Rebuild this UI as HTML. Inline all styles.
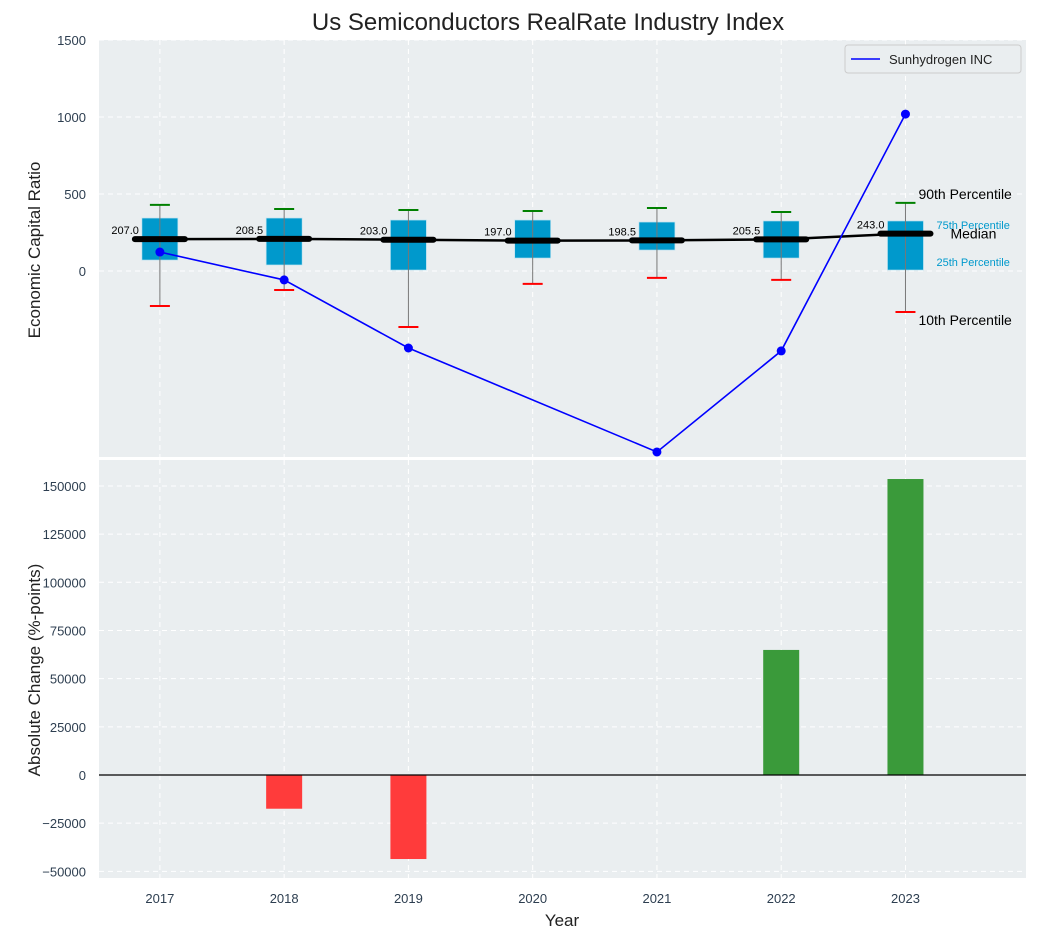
<!DOCTYPE html>
<html><head><meta charset="utf-8"><style>
body{margin:0;background:#fff;font-family:"Liberation Sans",sans-serif}
svg text{font-family:"Liberation Sans",sans-serif}
</style></head><body>
<svg id="c" width="1038" height="940" xmlns="http://www.w3.org/2000/svg"></svg>
<script>
const years=[2017,2018,2019,2020,2021,2022,2023];
const p90=[429,403,396,390,409,383,442];
const p75=[344,344,331,331,318,325,325];
const p25=[71,39,6,84,136,84,6];
const p10=[-227,-123,-364,-84,-45,-58,-266];
const medians=[207.0,208.5,203.0,197.0,198.5,205.5,243.0];
const sunYears=[2017,2018,2019,2021,2022,2023];
const sunVals=[123,-58,-500,-1175,-519,1019];
const changeYears=[2018,2019,2022,2023];
const changeVals=[-17500,-43600,64900,153600];
const topTicks=[0,500,1000,1500];
const botTicks=[-50000,-25000,0,25000,50000,75000,100000,125000,150000];

const NS="http://www.w3.org/2000/svg",svg=document.getElementById('c');
function el(t,a,txt){const e=document.createElementNS(NS,t);for(const k in a)e.setAttribute(k,a[k]);if(txt!==undefined)e.textContent=txt;svg.appendChild(e);return e;}
const L=99,R=1026,T1=40,B1=457,T2=460,B2=878;
const x=v=>L+(v-2016.51)/(2023.97-2016.51)*(R-L);
const y1=v=>271-v*0.154;
const y2=v=>775-v*0.001927;
let e;
e=el('rect',{x:L,y:T1,width:R-L,height:B1-T1,fill:'#eaeef0'});

e=el('rect',{x:L,y:T2,width:R-L,height:B2-T2,fill:'#eaeef0'});

// grids
years.forEach(yr=>{[[T1,B1],[T2,B2]].forEach(p=>{el('line',{x1:x(yr),x2:x(yr),y1:p[0],y2:p[1],stroke:'#fff','stroke-dasharray':'5,4','stroke-width':1});});
 e=el('text',{x:x(yr),y:903,'text-anchor':'middle','font-size':13,fill:'#2d3e50'},yr);
 });
topTicks.forEach(t=>{el('line',{x1:L,x2:R,y1:y1(t),y2:y1(t),stroke:'#fff','stroke-dasharray':'5,4'});
 e=el('text',{x:86,y:y1(t)+5,'text-anchor':'end','font-size':13,fill:'#2d3e50'},t);
 });
botTicks.forEach(t=>{el('line',{x1:L,x2:R,y1:y2(t),y2:y2(t),stroke:'#fff','stroke-dasharray':'5,4'});
 e=el('text',{x:86,y:y2(t)+5,'text-anchor':'end','font-size':13,fill:'#2d3e50'},t<0?'\u2212'+(-t):t);
 });
// boxes
years.forEach((yr,i)=>{const cx=x(yr);
 e=el('rect',{x:cx-18,y:y1(p75[i]),width:36,height:y1(p25[i])-y1(p75[i]),fill:'#0099cc',stroke:'#bfe3f0','stroke-width':0.7});
 
 el('line',{x1:cx,x2:cx,y1:y1(p90[i]),y2:y1(p10[i]),stroke:'#777','stroke-width':1});
 e=el('line',{x1:cx-10,x2:cx+10,y1:y1(p90[i]),y2:y1(p90[i]),stroke:'green','stroke-width':2});
 
 e=el('line',{x1:cx-10,x2:cx+10,y1:y1(p10[i]),y2:y1(p10[i]),stroke:'red','stroke-width':2});
 
});
// median line
e=el('polyline',{points:years.map((yr,i)=>x(yr)+','+y1(medians[i])).join(' '),fill:'none',stroke:'#000','stroke-width':2.5});

years.forEach((yr,i)=>{const cx=x(yr);
 el('line',{x1:cx-25,x2:cx+25,y1:y1(medians[i]),y2:y1(medians[i]),stroke:'#000','stroke-width':6,'stroke-linecap':'round'});
 e=el('text',{x:cx-21,y:y1(medians[i])-5,'text-anchor':'end','font-size':11,fill:'#000'},medians[i].toFixed(1));
 });
// sun line
e=el('polyline',{points:sunYears.map((yr,i)=>x(yr)+','+y1(sunVals[i])).join(' '),fill:'none',stroke:'#0000ff','stroke-width':1.6});

sunYears.forEach((yr,i)=>{e=el('circle',{cx:x(yr),cy:y1(sunVals[i]),r:4.5,fill:'#0000ff'});
 });
// annotations
const ax=x(2023);
[['90th Percentile',ax+13,y1(p90[6])-4,14,'#000'],['75th Percentile',ax+31,y1(p75[6])+8,11,'#0099cc'],['Median',ax+45,y1(medians[6])+5,14,'#000'],['25th Percentile',ax+31,y1(p25[6])-4,11,'#0099cc'],['10th Percentile',ax+13,y1(p10[6])+13,14,'#000']].forEach(a=>{
 e=el('text',{x:a[1],y:a[2],'font-size':a[3],fill:a[4]},a[0]);});
// legend
e=el('rect',{x:845,y:45,width:176,height:28,fill:'#eaeef0',stroke:'#ccc',rx:3});

el('line',{x1:851,x2:880,y1:59,y2:59,stroke:'#0000ff','stroke-width':1.6});
e=el('text',{x:889,y:64,'font-size':13,fill:'#222'},'Sunhydrogen INC');

// bars
changeYears.forEach((yr,i)=>{const v=changeVals[i];
 e=el('rect',{x:x(yr)-18,y:Math.min(y2(v),y2(0)),width:36,height:Math.abs(y2(v)-y2(0)),fill:v<0?'#ff3b3b':'#3a9a3a'});
 });
el('line',{x1:L,x2:R,y1:y2(0),y2:y2(0),stroke:'#000','stroke-width':1.2});
// titles
e=el('text',{x:548,y:30,'text-anchor':'middle','font-size':24,fill:'#222'},'Us Semiconductors RealRate Industry Index');

e=el('text',{x:0,y:0,'text-anchor':'middle','font-size':17,fill:'#222',transform:'translate(40,250) rotate(-90)'},'Economic Capital Ratio');

e=el('text',{x:0,y:0,'text-anchor':'middle','font-size':17,fill:'#222',transform:'translate(40,670) rotate(-90)'},'Absolute Change (%-points)');

e=el('text',{x:562,y:926,'text-anchor':'middle','font-size':17,fill:'#222'},'Year');

</script>
</body></html>
